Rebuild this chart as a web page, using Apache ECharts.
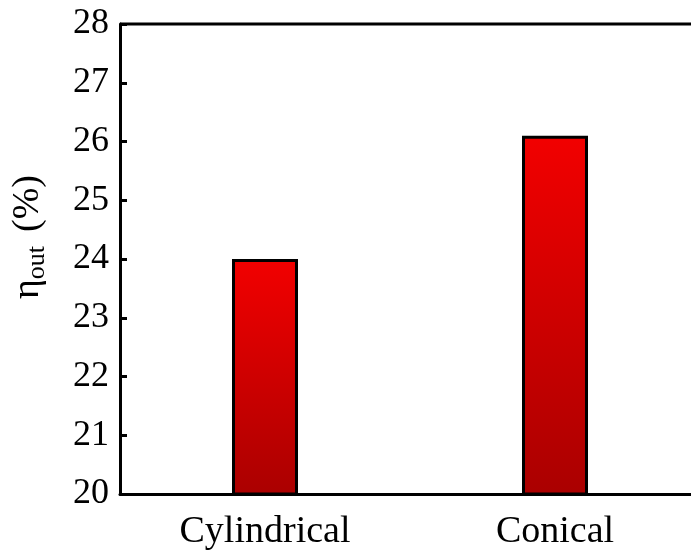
<!DOCTYPE html>
<html>
<head>
<meta charset="utf-8">
<script src="https://cdn.jsdelivr.net/npm/echarts@6/dist/echarts.min.js"></script>
<style>
html,body{margin:0;padding:0;background:#fff;overflow:hidden;}
#chart{width:691px;height:553px;}
</style>
</head>
<body>
<div id="chart"></div>
<script>
// Output efficiency for the two geometries
const categories = ['Cylindrical', 'Conical'];
const etaOut = [24.0, 26.1];
const yTicks = [20, 21, 22, 23, 24, 25, 26, 27, 28];

const font = '"Liberation Serif", "Times New Roman", serif';
const chart = echarts.init(document.getElementById('chart'));

chart.setOption({
  animation: false,
  backgroundColor: '#fff',
  grid: {
    left: 120, width: 580, top: 24, bottom: 59,
    containLabel: false, outerBoundsMode: 'none'
  },
  xAxis: {
    type: 'category',
    data: categories,
    axisLine: { lineStyle: { color: '#000', width: 3 } },
    axisTick: { show: false },
    axisLabel: { color: '#000', fontFamily: font, fontSize: 38, margin: 19 }
  },
  yAxis: [{
    type: 'value',
    min: yTicks[0],
    max: yTicks[yTicks.length - 1],
    interval: 1,
    name: '{b|η}{s|out}{p|(%)}',
    nameLocation: 'middle',
    nameGap: 70,
    nameRotate: 90,
    nameTextStyle: {
      color: '#000',
      padding: [0, 0, 0, 44],
      rich: {
        b: { fontFamily: font, fontSize: 38, color: '#000' },
        p: { fontFamily: font, fontSize: 38, color: '#000', padding: [0, 0, 0, 14] },
        s: { fontFamily: font, fontSize: 26, color: '#000', verticalAlign: 'bottom', padding: [18, 0, 0, 0] }
      }
    },
    axisLine: { show: true, lineStyle: { color: '#000', width: 3 } },
    axisTick: { show: true, inside: true, length: 7, lineStyle: { color: '#000', width: 3 } },
    axisLabel: { color: '#000', fontFamily: font, fontSize: 36, margin: 11 },
    splitLine: { show: false }
  }],
  series: [{
    type: 'bar',
    data: etaOut,
    barWidth: 66,
    itemStyle: {
      borderColor: '#000',
      borderWidth: 3,
      color: new echarts.graphic.LinearGradient(0, 0, 0, 1, [
        { offset: 0, color: '#f20000' },
        { offset: 1, color: '#aa0000' }
      ])
    }
  }],
  graphic: [{
    type: 'line',
    shape: { x1: 120, y1: 24, x2: 691, y2: 24 },
    style: { stroke: '#000', lineWidth: 3 }
  }]
});
</script>
</body>
</html>
